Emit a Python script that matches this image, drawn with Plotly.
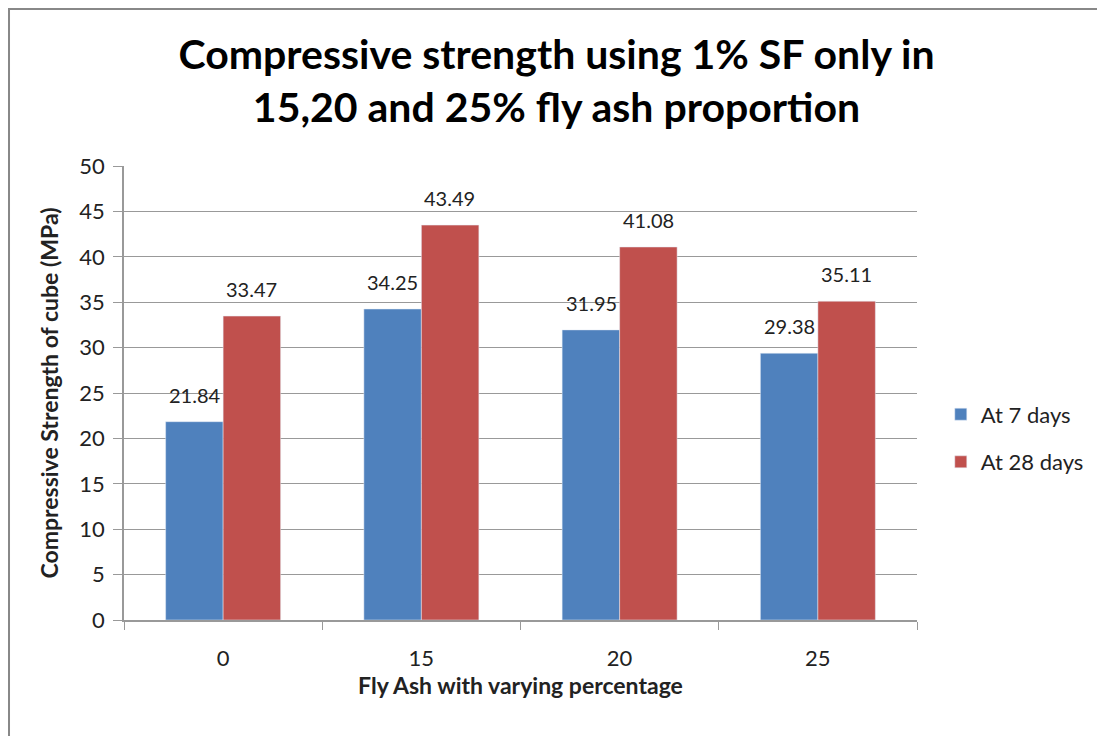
import plotly.graph_objects as go

fly_ash = ["0", "15", "20", "25"]
days_7 = [21.84, 34.25, 31.95, 29.38]
days_28 = [33.47, 43.49, 41.08, 35.11]

BLUE = "#4F81BD"
RED = "#C0504D"
FONT = "Lato"

fig = go.Figure()
fig.add_trace(go.Bar(
    x=fly_ash, y=days_7, name="At 7 days", legendgroup="a",
    marker=dict(color=BLUE),
))
fig.add_trace(go.Bar(
    x=fly_ash, y=days_28, name="At 28 days", legendgroup="b",
    marker=dict(color=RED),
))

# value labels sit a bit higher above the bars than plotly's outside text;
# annotations on a category axis take the category index
for vals, shift in [(days_7, -28.5), (days_28, 28.5)]:
    for i, v in enumerate(vals):
        fig.add_annotation(
            x=i, y=v, text=f"{v:.2f}", showarrow=False,
            xshift=shift, yshift=13, yanchor="bottom",
            font=dict(size=20, color="#222", family=FONT),
        )

# page has an 8px body margin, so the figure is sized to fit the window
fig.update_layout(
    width=1097, height=728,
    margin=dict(l=116, r=188, t=158, b=116),
    paper_bgcolor="white", plot_bgcolor="white",
    barmode="group", bargap=0.42, bargroupgap=0,
    font=dict(family=FONT, size=20, color="#222"),
    title=dict(
        text="<b>Compressive strength using 1% SF only in<br>15,20 and 25% fly ash proportion</b>",
        x=0.5, xanchor="center", y=0.916, yanchor="middle",
        font=dict(size=41, color="black", family=FONT),
    ),
    legend=dict(
        x=1.03, y=0.40, xanchor="left", yanchor="middle",
        font=dict(size=22, family=FONT), itemwidth=30,
        traceorder="grouped", tracegroupgap=16,
    ),
    showlegend=True,
)
fig.update_xaxes(
    type="category", categoryorder="array", categoryarray=fly_ash,
    showline=True, linecolor="#999", linewidth=1.5,
    ticks="outside", tickson="boundaries", ticklen=8, tickcolor="#999",
    tickfont=dict(size=22), showgrid=False, ticklabelstandoff=18,
    title=dict(text="<b>Fly Ash with varying percentage</b>", font=dict(size=23), standoff=8),
)
fig.update_yaxes(
    range=[0, 50], dtick=5, showline=True, linecolor="#999", linewidth=1.5,
    ticks="outside", ticklen=9, tickcolor="#999",
    showgrid=True, gridcolor="#999", gridwidth=1, zeroline=False,
    tickfont=dict(size=22), ticklabelstandoff=4,
    title=dict(text="<b>Compressive Strength of cube (MPa)</b>", font=dict(size=23), standoff=14),
)

fig.add_shape(
    type="rect", xref="paper", yref="paper",
    x0=-0.145, y0=-0.6, x1=1.6, y1=1.346,
    line=dict(color="#888", width=2), layer="below",
)

fig.write_html("out.html")
